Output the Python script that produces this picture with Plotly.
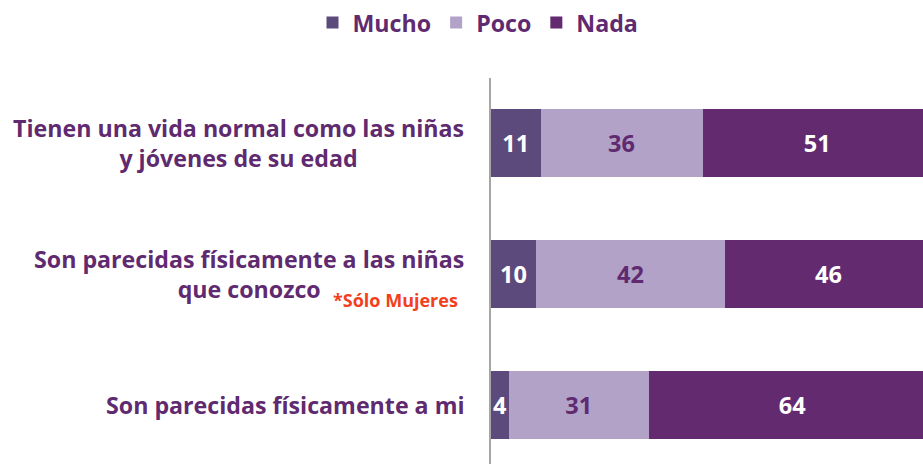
import plotly.graph_objects as go

categories = ["Tienen una vida normal como las niñas<br>y jóvenes de su edad",
              "Son parecidas físicamente a las niñas<br>que conozco",
              "Son parecidas físicamente a mi"]
mucho = [11, 10, 4]
poco = [36, 42, 31]
nada = [51, 46, 64]
note_text = "*Sólo Mujeres"

ids = ["c0", "c1", "c2"]
col_mucho = "#5D4A7C"
col_poco = "#B2A2C7"
col_nada = "#632A70"
txt_purple = "#5F2A6F"
FONT = "Open Sans"

fig = go.Figure()
series = [("Mucho", mucho, col_mucho, "white"),
          ("Poco", poco, col_poco, txt_purple),
          ("Nada", nada, col_nada, "white")]
for name, vals, col, tcol in series:
    fig.add_trace(go.Bar(
        y=ids, x=vals, name=name, orientation="h",
        marker=dict(color=col, line=dict(width=0)),
        text=[str(v) for v in vals], textposition="inside",
        insidetextanchor="middle", constraintext="none",
        textfont=dict(family=FONT, size=23.5, color=tcol, weight="bold"),
        hoverinfo="skip",
    ))

for cid, lab in zip(ids, categories):
    fig.add_annotation(
        xref="paper", x=0, yref="y", y=cid, text=lab, showarrow=False,
        xanchor="right", yanchor="middle", xshift=-25, align="center",
        font=dict(family=FONT, size=23.2, color=txt_purple, weight="bold"),
    )
fig.add_annotation(
    xref="paper", x=0, yref="y", y=ids[1], text=note_text, showarrow=False,
    xanchor="left", yanchor="middle", xshift=-160, yshift=-26,
    font=dict(family=FONT, size=18, color="#F2401E", weight="bold"),
)

fig.update_layout(
    width=923, height=464,
    margin=dict(l=491, r=0, t=78, b=0),
    barmode="stack", bargap=0.48,
    plot_bgcolor="white", paper_bgcolor="white",
    showlegend=True,
    legend=dict(orientation="h", x=(478 - 491) / 432, xanchor="center",
                y=(464 - 23) / 386, yanchor="middle",
                font=dict(family=FONT, size=23.2, color=txt_purple, weight="bold"),
                traceorder="normal"),
    xaxis=dict(range=[0, 96], showgrid=False, zeroline=False,
               showticklabels=False, showline=False, fixedrange=True),
    yaxis=dict(range=[2.45, -0.5], showgrid=False, zeroline=False,
               showticklabels=False, showline=True, linecolor="#A6A6A6",
               linewidth=2, ticks="", fixedrange=True),
)

fig.write_html("out.html", config={"displayModeBar": False},
               post_script="document.body.style.margin='0';document.body.style.overflow='hidden';")
